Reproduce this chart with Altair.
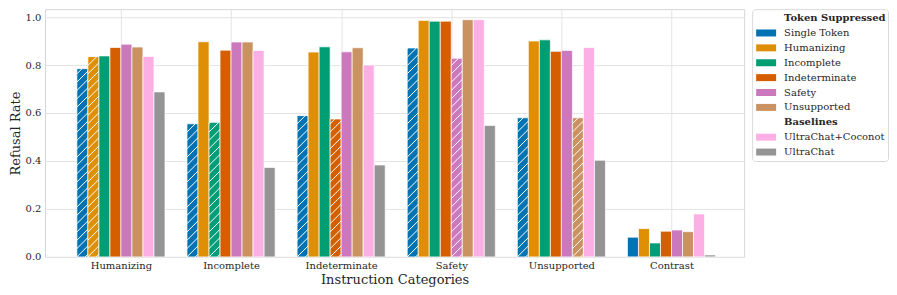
import altair as alt
import pandas as pd

categories = ["Humanizing", "Incomplete", "Indeterminate", "Safety", "Unsupported", "Contrast"]
series = ["Single Token", "Humanizing", "Incomplete", "Indeterminate", "Safety",
          "Unsupported", "UltraChat+Coconot", "UltraChat"]
colors = ["#0173b2", "#de8f05", "#029e73", "#d55e00", "#cc78bc", "#ca9161", "#fbafe4", "#949494"]

single_token = [0.785, 0.555, 0.589, 0.871, 0.580, 0.082]
humanizing = [0.835, 0.897, 0.854, 0.986, 0.900, 0.118]
incomplete = [0.838, 0.561, 0.876, 0.983, 0.905, 0.058]
indeterminate = [0.873, 0.862, 0.575, 0.983, 0.857, 0.107]
safety = [0.887, 0.896, 0.855, 0.828, 0.861, 0.112]
unsupported = [0.875, 0.896, 0.872, 0.989, 0.580, 0.105]
ultrachat_coconot = [0.836, 0.861, 0.800, 0.989, 0.873, 0.179]
ultrachat = [0.688, 0.373, 0.383, 0.548, 0.403, 0.008]

values = [single_token, humanizing, incomplete, indeterminate, safety,
          unsupported, ultrachat_coconot, ultrachat]

legend_groups = [("Token Suppressed", series[:6]), ("Baselines", series[6:])]

rows = []
for si, (s, vals) in enumerate(zip(series, values)):
    for ci, (c, v) in enumerate(zip(categories, vals)):
        hatched = c != "Contrast" and (s == "Single Token" or s == c)
        rows.append({"category": c, "ci": ci, "series": s, "si": si,
                     "value": v, "hatched": hatched})
df = pd.DataFrame(rows)

BAR_W = 0.1
color_scale = alt.Scale(domain=series, range=colors)
x_scale = alt.Scale(domain=[-0.69, 5.66], nice=False, zero=False)
y_scale = alt.Scale(domain=[0, 1.033], nice=False)
label_expr = "[" + ",".join("'" + c + "'" for c in categories) + "][datum.value]"
x_axis = alt.Axis(values=list(range(len(categories))), labelExpr=label_expr,
                  title="Instruction Categories", grid=True, labelPadding=4, titlePadding=3)
y_axis = alt.Axis(values=[0, 0.2, 0.4, 0.6, 0.8, 1.0], format=".1f",
                  title="Refusal Rate", grid=True, labelPadding=4, titlePadding=3)

base = alt.Chart(df).transform_calculate(
    xc=f"datum.ci + (datum.si - 3.5) * {BAR_W}",
).transform_calculate(
    x0=f"datum.xc - {BAR_W / 2}",
    x1=f"datum.xc + {BAR_W / 2}",
)

bars = base.mark_rect(stroke="white", strokeWidth=0.7).encode(
    x=alt.X("x0:Q", scale=x_scale, axis=x_axis),
    x2="x1:Q",
    y=alt.Y("value:Q", scale=y_scale, axis=y_axis),
    y2=alt.datum(0),
    color=alt.Color("series:N", scale=color_scale, legend=None),
)

# diagonal "/" hatch lines for hatched bars (45 degrees in pixel space)
DY = 0.0458   # vertical rise across one bar width
STEP = 0.0347  # hatch spacing
hatch = base.transform_filter("datum.hatched").transform_calculate(
    seq=f"sequence({-2 * STEP}, datum.value, {STEP})"
).transform_flatten(["seq"]).transform_calculate(
    ya="max(datum.seq, 0)",
    yb=f"min(datum.seq + {DY}, datum.value)",
).transform_calculate(
    xa=f"datum.x0 + (datum.ya - datum.seq) / {DY} * {BAR_W}",
    xb=f"datum.x0 + (datum.yb - datum.seq) / {DY} * {BAR_W}",
).transform_filter("datum.ya < datum.yb").mark_rule(color="white", strokeWidth=1).encode(
    x=alt.X("xa:Q", scale=x_scale, axis=x_axis),
    x2="xb:Q",
    y=alt.Y("ya:Q", scale=y_scale, axis=y_axis),
    y2="yb:Q",
)

main = alt.layer(bars, hatch).properties(
    width=700, height=248,
    view=alt.ViewBackground(stroke="#d6d6d6", strokeWidth=1),
)

# custom legend with group headers
leg_rows = []
r = 0
for header, items in legend_groups:
    leg_rows.append({"row": r, "label": header, "header": True, "series": ""})
    r += 1
    for it in items:
        leg_rows.append({"row": r, "label": it, "header": False, "series": it})
        r += 1
leg_df = pd.DataFrame(leg_rows)

leg_y = alt.Y("row:O", scale=alt.Scale(type="point", padding=0.6), axis=None)
leg_base = alt.Chart(leg_df)
swatches = leg_base.transform_filter("!datum.header").mark_point(
    shape="M-1,-0.35H1V0.35H-1Z", size=400, filled=True, opacity=1, strokeWidth=0
).encode(
    x=alt.value(14), y=leg_y,
    color=alt.Color("series:N", scale=color_scale, legend=None),
)
labels = leg_base.transform_filter("!datum.header").mark_text(
    align="left", baseline="middle", fontSize=10, font="DejaVu Serif", color="#262626"
).encode(x=alt.value(32), y=leg_y, text="label:N")
headers = leg_base.transform_filter("datum.header").mark_text(
    align="left", baseline="middle", fontSize=10, font="DejaVu Serif",
    fontWeight="bold", color="#262626"
).encode(x=alt.value(32), y=leg_y, text="label:N")

legend = alt.layer(swatches, labels, headers).properties(
    width=136, height=152,
    view=alt.ViewBackground(stroke="#d9d9d9", strokeWidth=1, cornerRadius=3),
)

chart = alt.hconcat(main, legend, spacing=6).properties(
    padding={"left": 0, "top": 0, "right": 0, "bottom": 0}
).configure(font="DejaVu Serif").configure_axis(
    labelFont="DejaVu Serif", labelFontSize=10, labelColor="#262626",
    titleFont="DejaVu Serif", titleFontSize=13, titleFontWeight="normal",
    titleColor="#262626", gridColor="#e3e3e3", gridWidth=1,
    domain=False, ticks=False,
)

chart.save("out.html", embed_options={"renderer": "svg", "actions": False})
